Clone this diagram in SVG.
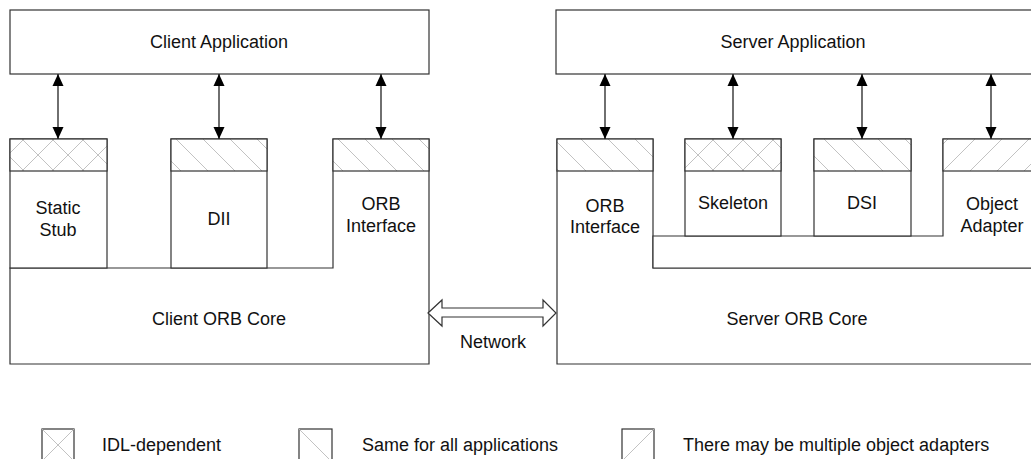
<svg xmlns="http://www.w3.org/2000/svg" width="1031" height="459" viewBox="0 0 1031 459">
  <style>
    .box { fill: #fff; stroke: #333; stroke-width: 1.2; }
    .band { stroke: #333; stroke-width: 1.2; }
    .cross { fill: url(#cross); }
    .back { fill: url(#back); }
    .fwd { fill: url(#fwd); }
    .hatch-line { stroke: #bbb; stroke-width: 0.9; }
    .lbl { font-family: "Liberation Sans", Arial, sans-serif; font-size: 18px; fill: #111; text-anchor: middle; }
    .leg { font-family: "Liberation Sans", Arial, sans-serif; font-size: 18px; fill: #111; }
    .link { stroke: #222; stroke-width: 1.3; fill: none; marker-start: url(#head); marker-end: url(#head); }
  </style>
  <defs>
    <!-- hatches: cross = IDL-dependent, back = same for all, fwd = multiple adapters -->
    <pattern id="cross" patternUnits="userSpaceOnUse" width="30" height="30" x="23" y="140">
      <rect width="30" height="30" fill="#fff"/>
      <line class="hatch-line" x1="-1" y1="-1" x2="31" y2="31"/>
      <line class="hatch-line" x1="31" y1="-1" x2="-1" y2="31"/>
    </pattern>
    <pattern id="back" patternUnits="userSpaceOnUse" width="27" height="27" x="14" y="139">
      <rect width="27" height="27" fill="#fff"/>
      <line class="hatch-line" x1="-1" y1="-1" x2="28" y2="28"/>
    </pattern>
    <pattern id="fwd" patternUnits="userSpaceOnUse" width="27" height="27" x="3" y="139">
      <rect width="27" height="27" fill="#fff"/>
      <line class="hatch-line" x1="-1" y1="28" x2="28" y2="-1"/>
    </pattern>
    <marker id="head" viewBox="0 0 12 12" refX="12" refY="6" markerWidth="12" markerHeight="12" markerUnits="userSpaceOnUse" orient="auto-start-reverse">
      <path d="M0,0.5 L12,6 L0,11.5 Z" fill="#000"/>
    </marker>
  </defs>

  <!-- Client side -->
  <g id="client-app">
    <rect class="box" x="10" y="10" width="419" height="64"/>
    <text class="lbl" x="219" y="48">Client Application</text>
  </g>
  <g id="client-orb-core">
    <path class="box" d="M10,268 H333 V139 H429 V364 H10 Z"/>
    <rect class="band back" x="333" y="139" width="96" height="32"/>
    <text class="lbl" x="219" y="325">Client ORB Core</text>
    <text class="lbl" x="381" y="210">ORB</text>
    <text class="lbl" x="381" y="232">Interface</text>
  </g>
  <g id="static-stub">
    <rect class="box" x="10" y="139" width="97" height="129"/>
    <rect class="band cross" x="10" y="139" width="97" height="32"/>
    <text class="lbl" x="58" y="214">Static</text>
    <text class="lbl" x="58" y="236">Stub</text>
  </g>
  <g id="dii">
    <rect class="box" x="171" y="139" width="96" height="129"/>
    <rect class="band back" x="171" y="139" width="96" height="32"/>
    <text class="lbl" x="219" y="225">DII</text>
  </g>

  <!-- Server side -->
  <g id="server-app">
    <rect class="box" x="556" y="10" width="484" height="64"/>
    <text class="lbl" x="793" y="48">Server Application</text>
  </g>
  <g id="server-orb-core">
    <path class="box" d="M557,139 H653 V268 H1040 V364 H557 Z"/>
    <rect class="band back" x="557" y="139" width="96" height="32"/>
    <text class="lbl" x="605" y="212">ORB</text>
    <text class="lbl" x="605" y="233">Interface</text>
    <text class="lbl" x="797" y="325">Server ORB Core</text>
  </g>
  <g id="object-adapter">
    <path class="box" d="M943,139 H1040 V268 H653 V236 H943 Z"/>
    <rect class="band fwd" x="943" y="139" width="97" height="32"/>
    <text class="lbl" x="992" y="210">Object</text>
    <text class="lbl" x="992" y="232">Adapter</text>
  </g>
  <g id="skeleton">
    <rect class="box" x="685" y="139" width="96" height="97"/>
    <rect class="band cross" x="685" y="139" width="96" height="32"/>
    <text class="lbl" x="733" y="209">Skeleton</text>
  </g>
  <g id="dsi">
    <rect class="box" x="814" y="139" width="97" height="97"/>
    <rect class="band back" x="814" y="139" width="97" height="32"/>
    <text class="lbl" x="862" y="209">DSI</text>
  </g>

  <!-- Connectors -->
  <g id="connectors">
    <line class="link" x1="58" y1="74" x2="58" y2="139"/>
    <line class="link" x1="219" y1="74" x2="219" y2="139"/>
    <line class="link" x1="381" y1="74" x2="381" y2="139"/>
    <line class="link" x1="605" y1="74" x2="605" y2="139"/>
    <line class="link" x1="733" y1="74" x2="733" y2="139"/>
    <line class="link" x1="862" y1="74" x2="862" y2="139"/>
    <line class="link" x1="991" y1="74" x2="991" y2="139"/>
    <g id="network">
      <path class="box" d="M428,313 L442,300 V308 H543 V300 L556,313 L543,326 V317 H442 V326 Z"/>
      <text class="lbl" x="493" y="348">Network</text>
    </g>
  </g>

  <!-- Legend -->
  <g id="legend">
    <rect class="box" x="42" y="429" width="32" height="34"/>
    <line class="hatch-line" x1="42" y1="429" x2="74" y2="461"/>
    <line class="hatch-line" x1="74" y1="429" x2="42" y2="461"/>
    <text class="leg" x="102" y="451">IDL-dependent</text>

    <rect class="box" x="299" y="429" width="33" height="34"/>
    <line class="hatch-line" x1="299" y1="429" x2="332" y2="462"/>
    <text class="leg" x="362" y="451">Same for all applications</text>

    <rect class="box" x="622" y="429" width="32" height="34"/>
    <line class="hatch-line" x1="622" y1="461" x2="654" y2="429"/>
    <text class="leg" x="683" y="451">There may be multiple object adapters</text>
  </g>
</svg>
